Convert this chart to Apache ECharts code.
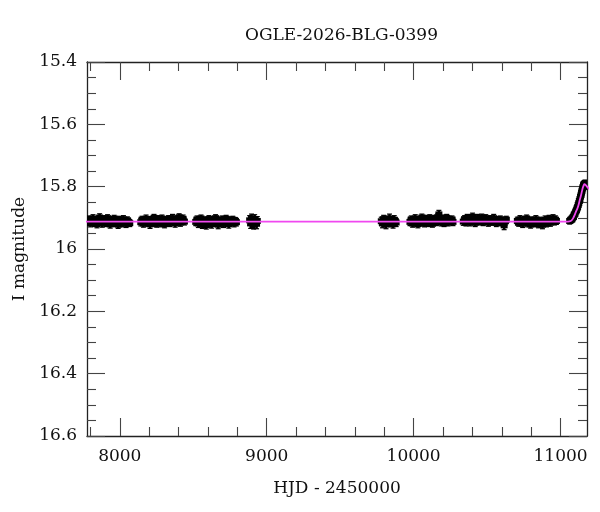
<!DOCTYPE html>
<html>
<head>
<meta charset="utf-8">
<script src="https://cdn.jsdelivr.net/npm/echarts@6/dist/echarts.min.js"></script>
<style>html,body{margin:0;padding:0;background:#fff}#c{width:600px;height:512px}</style>
</head>
<body>
<div id="c"></div>
<script>
// ---- Data (HJD-2450000, I mag, error) ----
const season1 = [[7782,15.912,0.012],[7791,15.905,0.011],[7800,15.917,0.012],[7809,15.908,0.011],[7818,15.902,0.012],[7827,15.915,0.013],[7836,15.909,0.011],[7845,15.920,0.012],[7854,15.906,0.011],[7863,15.899,0.012],[7872,15.913,0.011],[7881,15.918,0.012],[7890,15.904,0.011],[7899,15.911,0.013],[7908,15.916,0.012],[7917,15.901,0.011],[7926,15.910,0.012],[7935,15.921,0.012],[7944,15.907,0.011],[7953,15.914,0.012],[7962,15.903,0.011],[7971,15.916,0.012],[7980,15.909,0.011],[7989,15.922,0.012],[7998,15.906,0.011],[8007,15.913,0.012],[8016,15.918,0.011],[8025,15.905,0.012],[8034,15.912,0.011],[8043,15.919,0.012],[8052,15.908,0.011],[8061,15.914,0.012],[8068,15.917,0.011]];
const season2 = [[8143,15.914,0.012],[8152,15.906,0.011],[8161,15.918,0.012],[8170,15.910,0.011],[8179,15.903,0.012],[8188,15.916,0.011],[8197,15.909,0.012],[8206,15.921,0.013],[8215,15.907,0.011],[8224,15.912,0.012],[8233,15.900,0.011],[8242,15.915,0.012],[8251,15.919,0.011],[8260,15.905,0.012],[8269,15.911,0.011],[8278,15.917,0.012],[8287,15.902,0.011],[8296,15.913,0.012],[8305,15.920,0.012],[8314,15.908,0.011],[8323,15.914,0.012],[8332,15.904,0.011],[8341,15.916,0.012],[8350,15.910,0.011],[8359,15.901,0.012],[8368,15.913,0.011],[8377,15.918,0.012],[8386,15.906,0.011],[8395,15.911,0.012],[8404,15.898,0.011],[8413,15.915,0.012],[8422,15.909,0.011],[8431,15.903,0.012],[8440,15.912,0.011]];
const season3 = [[8517,15.913,0.012],[8526,15.905,0.011],[8535,15.918,0.013],[8544,15.910,0.012],[8553,15.902,0.011],[8562,15.921,0.013],[8571,15.914,0.012],[8580,15.908,0.011],[8589,15.923,0.013],[8598,15.911,0.012],[8607,15.904,0.011],[8616,15.917,0.012],[8625,15.920,0.013],[8634,15.907,0.011],[8643,15.913,0.012],[8652,15.901,0.011],[8661,15.916,0.012],[8670,15.922,0.013],[8679,15.909,0.011],[8688,15.914,0.012],[8697,15.905,0.011],[8706,15.919,0.012],[8715,15.911,0.012],[8724,15.903,0.011],[8733,15.916,0.012],[8742,15.920,0.013],[8751,15.908,0.011],[8760,15.913,0.012],[8769,15.906,0.011],[8778,15.917,0.012],[8787,15.910,0.011],[8794,15.914,0.012]];
const season4 = [[8884,15.908,0.015],[8891,15.918,0.016],[8897,15.902,0.014],[8904,15.914,0.017],[8911,15.921,0.015],[8918,15.906,0.016],[8925,15.913,0.015],[8931,15.919,0.016],[8936,15.910,0.014]];
const season5 = [[9780,15.911,0.013],[9788,15.918,0.014],[9796,15.904,0.012],[9804,15.914,0.013],[9812,15.921,0.014],[9820,15.907,0.012],[9828,15.913,0.013],[9836,15.902,0.014],[9844,15.916,0.013],[9852,15.910,0.012],[9860,15.919,0.014],[9868,15.906,0.013],[9876,15.912,0.012],[9881,15.915,0.013]];
const season6 = [[9975,15.913,0.012],[9984,15.905,0.011],[9993,15.918,0.012],[10002,15.909,0.011],[10011,15.902,0.012],[10020,15.915,0.011],[10029,15.920,0.012],[10038,15.907,0.011],[10047,15.912,0.012],[10056,15.899,0.011],[10065,15.914,0.012],[10074,15.918,0.011],[10083,15.904,0.012],[10092,15.910,0.011],[10101,15.916,0.012],[10110,15.901,0.011],[10119,15.912,0.012],[10128,15.919,0.011],[10137,15.906,0.012],[10146,15.903,0.011],[10155,15.913,0.012],[10164,15.898,0.011],[10172,15.889,0.013],[10180,15.908,0.012],[10189,15.915,0.011],[10198,15.903,0.012],[10207,15.917,0.011],[10216,15.909,0.012],[10225,15.900,0.011],[10234,15.914,0.012],[10243,15.906,0.011],[10252,15.911,0.012],[10261,15.905,0.011],[10268,15.913,0.012]];
const season7 = [[10338,15.912,0.012],[10347,15.904,0.011],[10356,15.914,0.012],[10365,15.900,0.011],[10374,15.909,0.012],[10383,15.915,0.011],[10392,15.903,0.012],[10401,15.897,0.012],[10410,15.910,0.011],[10419,15.916,0.012],[10428,15.905,0.011],[10437,15.901,0.012],[10446,15.912,0.011],[10455,15.908,0.012],[10464,15.899,0.011],[10473,15.913,0.012],[10482,15.906,0.011],[10491,15.902,0.012],[10500,15.911,0.011],[10509,15.915,0.012],[10518,15.904,0.011],[10527,15.909,0.012],[10536,15.913,0.011],[10545,15.901,0.012],[10554,15.910,0.011],[10563,15.916,0.012],[10572,15.907,0.011],[10581,15.912,0.012],[10590,15.905,0.011],[10599,15.914,0.012],[10608,15.909,0.011],[10616,15.924,0.014],[10624,15.911,0.012],[10631,15.906,0.011]];
const season8 = [[10706,15.910,0.012],[10715,15.916,0.011],[10724,15.905,0.012],[10733,15.912,0.011],[10742,15.919,0.012],[10751,15.907,0.011],[10760,15.913,0.012],[10769,15.902,0.011],[10778,15.917,0.012],[10787,15.910,0.011],[10796,15.921,0.012],[10805,15.908,0.011],[10814,15.914,0.012],[10823,15.918,0.011],[10832,15.905,0.012],[10841,15.912,0.011],[10850,15.920,0.012],[10859,15.909,0.011],[10868,15.916,0.012],[10877,15.922,0.013],[10886,15.911,0.011],[10895,15.906,0.012],[10904,15.918,0.011],[10913,15.913,0.012],[10922,15.903,0.011],[10931,15.915,0.012],[10940,15.909,0.011],[10949,15.902,0.012],[10958,15.912,0.011],[10966,15.906,0.012],[10972,15.910,0.011]];
const season9 = [[11062,15.910,0.010],[11070,15.906,0.011],[11077,15.905,0.010],[11083,15.899,0.011],[11088,15.897,0.010],[11093,15.890,0.011],[11098,15.887,0.010],[11103,15.880,0.011],[11108,15.876,0.010],[11112,15.870,0.011],[11116,15.866,0.010],[11120,15.859,0.011],[11124,15.853,0.010],[11128,15.846,0.011],[11132,15.840,0.010],[11136,15.832,0.011],[11140,15.826,0.010],[11143,15.819,0.011],[11146,15.813,0.010],[11150,15.806,0.011],[11153,15.801,0.010],[11156,15.796,0.011],[11159,15.793,0.010],[11162,15.791,0.011],[11165,15.793,0.010],[11168,15.790,0.011],[11171,15.795,0.010],[11175,15.797,0.011],[11178,15.799,0.010]];
const modelCurve = [[7700,15.912],[11040,15.912],[11060,15.911],[11075,15.908],[11086,15.901],[11095,15.892],[11105,15.880],[11113,15.872],[11120,15.863],[11130,15.844],[11138,15.830],[11145,15.816],[11152,15.803],[11158,15.795],[11162,15.792],[11166,15.792],[11172,15.795],[11180,15.800],[11200,15.81]];

const xMajorTicks = [8000, 9000, 10000, 11000];
const xMinorTicks = [7800, 8200, 8400, 8600, 8800, 9200, 9400, 9600, 9800, 10200, 10400, 10600, 10800, 11200];
const yMajorTicks = [15.4, 15.6, 15.8, 16, 16.2, 16.4, 16.6];
const yMinorTicks = [15.45, 15.5, 15.55, 15.65, 15.7, 15.75, 15.85, 15.9, 15.95, 16.05, 16.1, 16.15, 16.25, 16.3, 16.35, 16.45, 16.5, 16.55];
const titleText = 'OGLE-2026-BLG-0399';
const xName = 'HJD - 2450000';
const yName = 'I magnitude';

const X_MIN = 7777, X_MAX = 11180, Y_MIN = 15.4, Y_MAX = 16.6;
const FONT = 'DejaVu Serif';
const allPoints = [].concat(season1, season2, season3, season4, season5, season6, season7, season8, season9);

function xAxisDef(pos, ticks, len, main) {
  const labels = main && pos === 'bottom';
  return {
    type: 'value', position: pos, min: X_MIN, max: X_MAX, scale: true,
    axisLine: { show: main, lineStyle: { color: '#222', width: 1.3 } },
    axisTick: { show: true, inside: true, length: len, customValues: ticks, lineStyle: { color: '#444', width: 1.1 } },
    axisLabel: { show: labels, customValues: ticks, margin: 12, color: '#111', fontFamily: FONT, fontSize: 17,
      formatter: function (v) { return String(v); } },
    splitLine: { show: false },
    name: labels ? xName : '', nameLocation: 'middle', nameGap: 44,
    nameTextStyle: { fontFamily: FONT, fontSize: 17, color: '#111' }
  };
}
function yAxisDef(pos, ticks, len, main) {
  const labels = main && pos === 'left';
  return {
    type: 'value', position: pos, min: Y_MIN, max: Y_MAX, inverse: true, scale: true,
    axisLine: { show: main, lineStyle: { color: '#222', width: 1.3 } },
    axisTick: { show: true, inside: true, length: len, customValues: ticks, lineStyle: { color: '#444', width: 1.1 } },
    axisLabel: { show: labels, customValues: ticks, margin: 10, color: '#111', fontFamily: FONT, fontSize: 17,
      formatter: function (v) { return String(v); } },
    splitLine: { show: false },
    name: labels ? yName : '', nameLocation: 'middle', nameGap: 58, nameRotate: 90,
    nameTextStyle: { fontFamily: FONT, fontSize: 17, color: '#111' }
  };
}

const chart = echarts.init(document.getElementById('c'), null, { renderer: 'canvas' });
chart.setOption({
  animation: false,
  backgroundColor: '#fff',
  title: { text: titleText, left: 240, top: 22, textStyle: { fontFamily: FONT, fontSize: 17, fontWeight: 'normal', color: '#111' } },
  grid: { left: 87, right: 13, top: 62, bottom: 76, containLabel: false },
  xAxis: [
    xAxisDef('bottom', xMajorTicks, 18, true),
    xAxisDef('bottom', xMinorTicks, 9, false),
    xAxisDef('top', xMajorTicks, 18, true),
    xAxisDef('top', xMinorTicks, 9, false)
  ],
  yAxis: [
    yAxisDef('left', yMajorTicks, 18, true),
    yAxisDef('left', yMinorTicks, 9, false),
    yAxisDef('right', yMajorTicks, 18, true),
    yAxisDef('right', yMinorTicks, 9, false)
  ],
  series: [
    {
      type: 'custom', xAxisIndex: 0, yAxisIndex: 0, clip: true, z: 1,
      data: allPoints, encode: { x: 0, y: 1 },
      renderItem: function (params, api) {
        const x = api.value(0), m = api.value(1), e = api.value(2);
        const top = api.coord([x, m - e]);
        const bot = api.coord([x, m + e]);
        const c = api.coord([x, m]);
        return {
          type: 'group',
          children: [
            { type: 'line', shape: { x1: c[0], y1: top[1], x2: c[0], y2: bot[1] }, style: { stroke: '#000', lineWidth: 2.6 } },
            { type: 'line', shape: { x1: c[0] - 2.5, y1: top[1], x2: c[0] + 2.5, y2: top[1] }, style: { stroke: '#000', lineWidth: 1.2 } },
            { type: 'line', shape: { x1: c[0] - 2.5, y1: bot[1], x2: c[0] + 2.5, y2: bot[1] }, style: { stroke: '#000', lineWidth: 1.2 } },
            { type: 'rect', shape: { x: c[0] - 3.5, y: c[1] - 3, width: 7, height: 6 }, style: { fill: '#000' } }
          ]
        };
      }
    },
    {
      type: 'line', xAxisIndex: 0, yAxisIndex: 0, data: modelCurve, showSymbol: false, smooth: 0.3,
      lineStyle: { color: '#f048f0', width: 1.8 }, z: 20, zlevel: 1, clip: true
    }
  ]
});
</script>
</body>
</html>
